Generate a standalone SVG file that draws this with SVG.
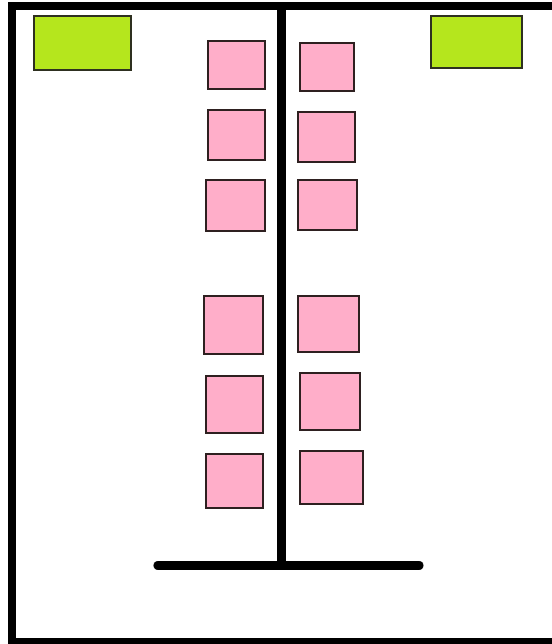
<svg xmlns="http://www.w3.org/2000/svg" width="552" height="644" viewBox="0 0 552 644">
<style>
.pink{fill:#ffaec9;stroke:#2e2020;stroke-width:2}
.lime{fill:#b5e61d;stroke:#2e3020;stroke-width:2}
.bar{fill:#000}
</style>
<rect width="552" height="644" fill="#fff"/>
<g id="frame">
<rect class="bar" x="8" y="2" width="544" height="8"/>
<rect class="bar" x="8" y="2" width="8" height="642"/>
<rect class="bar" x="8" y="638" width="544" height="6"/>
</g>
<g id="connectors">
<rect class="bar" x="277" y="2" width="9" height="566"/>
<line x1="158" y1="565.5" x2="419" y2="565.5" stroke="#000" stroke-width="9" stroke-linecap="round"/>
</g>
<g id="green-left"><rect class="lime" x="34" y="16" width="97" height="54"/></g>
<g id="green-right"><rect class="lime" x="431" y="16" width="91" height="52"/></g>
<g id="p1l"><rect class="pink" x="208" y="41" width="57" height="48"/></g>
<g id="p1r"><rect class="pink" x="300" y="43" width="54" height="48"/></g>
<g id="p2l"><rect class="pink" x="208" y="110" width="57" height="50"/></g>
<g id="p2r"><rect class="pink" x="298" y="112" width="57" height="50"/></g>
<g id="p3l"><rect class="pink" x="206" y="180" width="59" height="51"/></g>
<g id="p3r"><rect class="pink" x="298" y="180" width="59" height="50"/></g>
<g id="p4l"><rect class="pink" x="204" y="296" width="59" height="58"/></g>
<g id="p4r"><rect class="pink" x="298" y="296" width="61" height="56"/></g>
<g id="p5l"><rect class="pink" x="206" y="376" width="57" height="57"/></g>
<g id="p5r"><rect class="pink" x="300" y="373" width="60" height="57"/></g>
<g id="p6l"><rect class="pink" x="206" y="454" width="57" height="54"/></g>
<g id="p6r"><rect class="pink" x="300" y="451" width="63" height="53"/></g>
</svg>
